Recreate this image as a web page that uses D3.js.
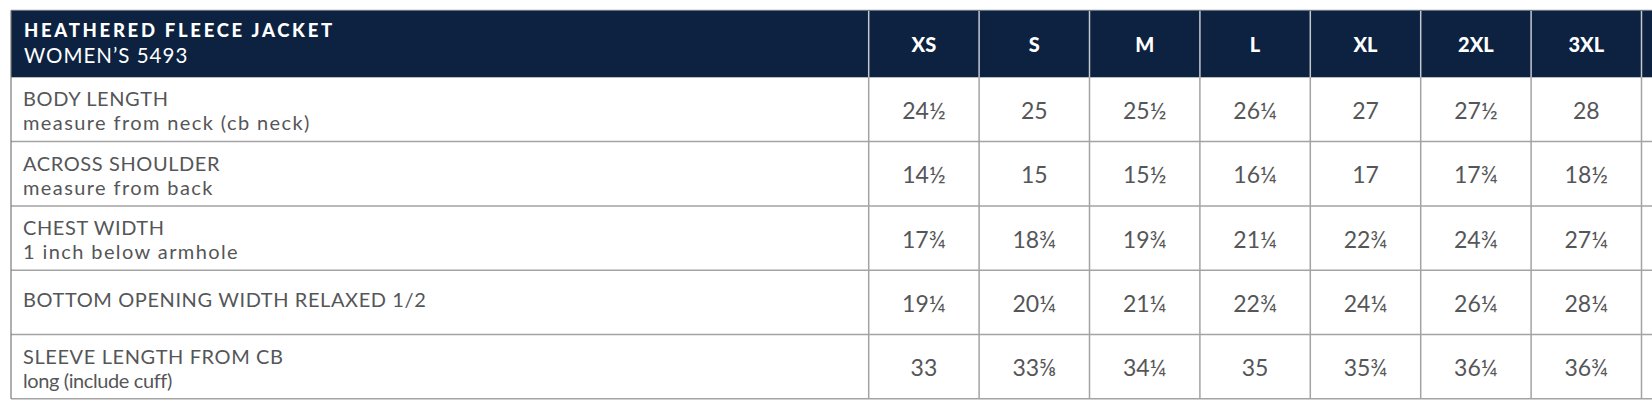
<!DOCTYPE html>
<html>
<head>
<meta charset="utf-8">
<script src="https://cdn.jsdelivr.net/npm/d3@7"></script>
<style>
  body { margin: 0; background: #fff; }
  svg { display: block; }
</style>
</head>
<body>
<script>
// size columns (last one is cut off at the right edge)
var sizes = ["XS", "S", "M", "L", "XL", "2XL", "3XL", "4XL"];
var titleMain = "HEATHERED FLEECE JACKET";
var titleSub = "WOMEN\u2019S 5493";

var measureNames = ["BODY LENGTH", "ACROSS SHOULDER", "CHEST WIDTH", "BOTTOM OPENING WIDTH RELAXED 1/2", "SLEEVE LENGTH FROM CB"];
var measureNotes = ["measure from neck (cb neck)", "measure from back", "1 inch below armhole", "", "long (include cuff)"];

// inches, XS..3XL
var bodyLength     = [24.5, 25, 25.5, 26.25, 27, 27.5, 28];
var acrossShoulder = [14.5, 15, 15.5, 16.25, 17, 17.75, 18.5];
var chestWidth     = [17.75, 18.75, 19.75, 21.25, 22.75, 24.75, 27.25];
var bottomOpening  = [19.25, 20.25, 21.25, 22.75, 24.25, 26.25, 28.25];
var sleeveLength   = [33, 33.625, 34.25, 35, 35.75, 36.25, 36.75];

var values = [bodyLength, acrossShoulder, chestWidth, bottomOpening, sleeveLength];

var w = 1652, h = 410;
var left = 11, labelRight = 868.7, colW = 110.4;
var headTop = 10.3, headBottom = 77.3, rowH = 64.3;

var navy = "#0c2240", grey = "#555658", line = "#a3a3a3";

var fracs = { 0: "", 0.25: "\u00bc", 0.5: "\u00bd", 0.75: "\u00be", 0.625: "\u215d" };
function fmt(v) {
    var whole = Math.floor(v);
    return whole + fracs[+(v - whole).toFixed(3)];
}

var svg = d3.select("body").append("svg")
    .attr("width", w)
    .attr("height", h);

var x = d3.scaleBand()
    .domain(sizes)
    .range([labelRight, labelRight + colW * sizes.length])
    .padding(0);

var y = d3.scaleBand()
    .domain(d3.range(measureNames.length))
    .range([headBottom, headBottom + rowH * measureNames.length])
    .padding(0);

/* header band */
svg.append("rect")
    .attr("x", left)
    .attr("y", headTop)
    .attr("width", w - left)
    .attr("height", headBottom - headTop)
    .attr("fill", navy);

svg.append("text")
    .attr("x", 24)
    .attr("y", 37.2)
    .text(titleMain)
    .attr("fill", "#fff")
    .attr("font-family", "Lato, sans-serif")
    .attr("font-weight", 900)
    .attr("font-size", 18.5)
    .attr("letter-spacing", 2.7);

svg.append("text")
    .attr("x", 24)
    .attr("y", 63)
    .text(titleSub)
    .attr("fill", "#fff")
    .attr("font-family", "Lato, sans-serif")
    .attr("font-size", 20.5)
    .attr("letter-spacing", 1);

svg.selectAll("text.size")
    .data(sizes.slice(0, 7))
    .enter()
    .append("text")
    .classed("size", true)
    .attr("x", d => x(d) + x.bandwidth() / 2)
    .attr("y", (headTop + headBottom) / 2 + 8.5)
    .attr("text-anchor", "middle")
    .text(d => d)
    .attr("fill", "#fff")
    .attr("font-family", "Lato, sans-serif")
    .attr("font-weight", 900)
    .attr("font-size", 20);

/* grid */
var grid = svg.append("g");

grid.selectAll("line.hhead")
    .data(sizes)
    .enter()
    .append("line")
    .attr("x1", d => x(d))
    .attr("x2", d => x(d))
    .attr("y1", headTop)
    .attr("y2", headBottom)
    .attr("stroke", "#c4c8cf")
    .attr("stroke-width", 1.5);

grid.selectAll("line.vbody")
    .data(sizes)
    .enter()
    .append("line")
    .attr("x1", d => x(d))
    .attr("x2", d => x(d))
    .attr("y1", headBottom)
    .attr("y2", y.range()[1])
    .attr("stroke", line)
    .attr("stroke-width", 1.5);

grid.selectAll("line.row")
    .data(d3.range(measureNames.length))
    .enter()
    .append("line")
    .attr("x1", left)
    .attr("x2", w)
    .attr("y1", d => y(d) + y.bandwidth())
    .attr("y2", d => y(d) + y.bandwidth())
    .attr("stroke", line)
    .attr("stroke-width", 1.5);

grid.append("line")
    .attr("x1", left)
    .attr("x2", w)
    .attr("y1", headTop)
    .attr("y2", headTop)
    .attr("stroke", "#6f7580")
    .attr("stroke-width", 1);

grid.append("line")
    .attr("x1", left)
    .attr("x2", left)
    .attr("y1", headTop)
    .attr("y2", y.range()[1])
    .attr("stroke", "#7a7a7a")
    .attr("stroke-width", 1.2);

/* row labels */
var rows = svg.selectAll("g.row")
    .data(measureNames)
    .enter()
    .append("g")
    .attr("transform", (d, i) => "translate(0," + y(i) + ")");

rows.append("text")
    .attr("x", 23)
    .attr("y", (d, i) => measureNotes[i] ? 29 : rowH / 2 + 4.5)
    .text(d => d)
    .attr("fill", grey)
    .attr("font-family", "Lato, sans-serif")
    .attr("font-size", 20)
    .attr("letter-spacing", 0.6);

rows.append("text")
    .attr("x", 23)
    .attr("y", 53)
    .text((d, i) => measureNotes[i])
    .attr("fill", grey)
    .attr("font-family", "Lato, sans-serif")
    .attr("font-size", 20)
    .attr("letter-spacing", (d, i) => i == 4 ? -0.4 : 1.4);

/* values */
rows.selectAll("text.val")
    .data((d, i) => values[i])
    .enter()
    .append("text")
    .classed("val", true)
    .attr("x", (d, j) => x(sizes[j]) + x.bandwidth() / 2)
    .attr("y", rowH / 2 + 9.5)
    .attr("text-anchor", "middle")
    .text(d => fmt(d))
    .attr("fill", grey)
    .attr("font-family", "Lato, sans-serif")
    .attr("font-size", 23);
</script>
</body>
</html>
